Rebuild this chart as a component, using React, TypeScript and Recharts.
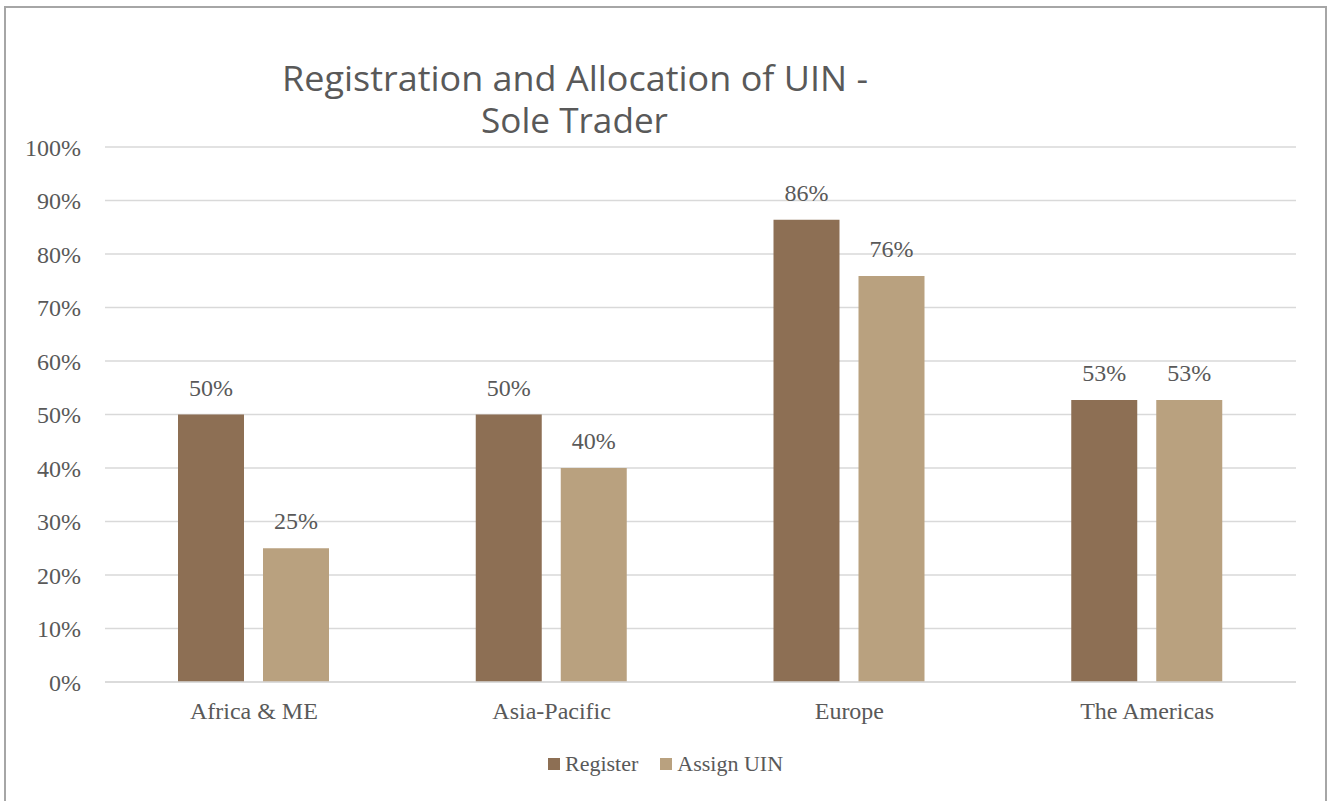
import React from "react";
import { Bar, BarChart, CartesianGrid, LabelList, Legend, XAxis, YAxis } from "recharts";

const REGIONS = ["Africa & ME", "Asia-Pacific", "Europe", "The Americas"];
const REGISTER = [0.5, 0.5, 0.864, 0.527];
const ASSIGN_UIN = [0.25, 0.4, 0.759, 0.527];
const Y_TICKS = [0, 0.1, 0.2, 0.3, 0.4, 0.5, 0.6, 0.7, 0.8, 0.9, 1];

const REGISTER_COLOR = "#8D6F54";
const ASSIGN_COLOR = "#B9A17F";
const TEXT_COLOR = "#595959";
const GRID_COLOR = "#D9D9D9";
const SERIF = "'Liberation Serif', 'DejaVu Serif', serif";

const chartData = REGIONS.map((name, i) => ({
  name,
  register: REGISTER[i],
  assign: ASSIGN_UIN[i],
}));

const pct = (v: number) => `${Math.round(v * 100)}%`;

function LegendContent() {
  const items = [
    { label: "Register", color: REGISTER_COLOR },
    { label: "Assign UIN", color: ASSIGN_COLOR },
  ];
  return (
    <div style={{ display: "flex", alignItems: "center", gap: 22, fontFamily: SERIF, fontSize: 22, color: TEXT_COLOR, lineHeight: "24px" }}>
      {items.map((it) => (
        <span key={it.label} style={{ display: "flex", alignItems: "center", gap: 5 }}>
          <span style={{ width: 12, height: 12, background: it.color, display: "inline-block" }} />
          {it.label}
        </span>
      ))}
    </div>
  );
}

export default function App() {
  return (
    <div style={{ position: "absolute", left: 0, top: 0, width: 1330, height: 801, background: "#fff", overflow: "hidden" }}>
      <div
        style={{
          position: "absolute",
          left: 4,
          top: 6,
          width: 1319,
          height: 800,
          borderTop: "2px solid #A6A6A6",
          borderLeft: "2px solid #A6A6A6",
          borderRight: "2px solid #A6A6A6",
        }}
      />
      <BarChart
        width={1330}
        height={801}
        data={chartData}
        margin={{ top: 147, right: 34, left: 5, bottom: 35 }}
        barSize={66}
        barGap={19}
      >
        <CartesianGrid vertical={false} stroke={GRID_COLOR} strokeWidth={1.5} />
        <XAxis
          dataKey="name"
          tick={{ fill: TEXT_COLOR, fontSize: 24, fontFamily: SERIF }}
          axisLine={{ stroke: GRID_COLOR, strokeWidth: 1.5 }}
          tickLine={false}
          tickMargin={14}
          height={60}
        />
        <YAxis
          domain={[0, 1]}
          ticks={Y_TICKS}
          tickFormatter={pct}
          tick={{ fill: TEXT_COLOR, fontSize: 24, fontFamily: SERIF }}
          axisLine={false}
          tickLine={false}
          tickMargin={18}
          width={100}
        />
        <Legend
          content={<LegendContent />}
          wrapperStyle={{ left: 548, top: 752, width: "auto" }}
        />
        <Bar dataKey="register" name="Register" fill={REGISTER_COLOR} isAnimationActive={false}>
          <LabelList dataKey="register" position="top" offset={19} formatter={(v: any) => pct(Number(v))} style={{ fill: TEXT_COLOR, fontSize: 24, fontFamily: SERIF }} />
        </Bar>
        <Bar dataKey="assign" name="Assign UIN" fill={ASSIGN_COLOR} isAnimationActive={false}>
          <LabelList dataKey="assign" position="top" offset={19} formatter={(v: any) => pct(Number(v))} style={{ fill: TEXT_COLOR, fontSize: 24, fontFamily: SERIF }} />
        </Bar>
      </BarChart>
      <svg width={1330} height={150} style={{ position: "absolute", left: 0, top: 0, pointerEvents: "none" }}>
        <text x={282} y={91} textLength={586} lengthAdjust="spacingAndGlyphs" fill={TEXT_COLOR} fontSize={34} fontFamily="'Open Sans', sans-serif">
          Registration and Allocation of UIN -
        </text>
        <text x={481} y={133} textLength={187} lengthAdjust="spacingAndGlyphs" fill={TEXT_COLOR} fontSize={34} fontFamily="'Open Sans', sans-serif">
          Sole Trader
        </text>
      </svg>
    </div>
  );
}
